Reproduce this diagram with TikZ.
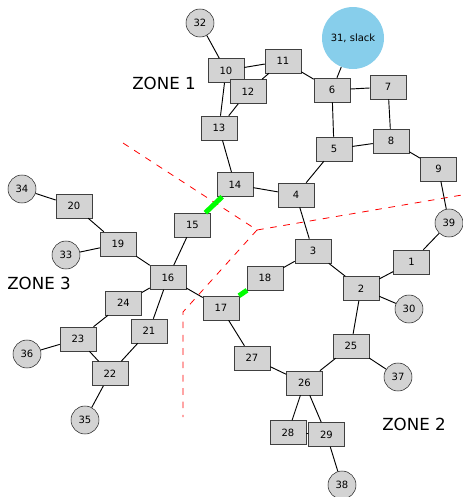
\documentclass[tikz,border=0pt]{standalone}
\usepackage{fontspec}
\setmainfont{DejaVu Sans}
\definecolor{skyblue}{HTML}{87CEEB}
\definecolor{busgray}{HTML}{D3D3D3}
\begin{document}
\begin{tikzpicture}[x=0.75pt,y=-0.75pt,
    bus/.style={draw=black!75, fill=busgray, minimum width=27pt, minimum height=18pt, inner sep=0pt, font=\fontsize{7.5}{9}\selectfont},
    gen/.style={circle, draw=black!85, fill=busgray, minimum size=21pt, inner sep=0pt, font=\fontsize{7.5}{9}\selectfont},
    slack/.style={circle, fill=skyblue, minimum size=46.5pt, inner sep=0pt, font=\fontsize{7.5}{9}\selectfont},
    line/.style={black, line width=0.7pt},
    trafo/.style={green, line width=3.75pt},
    border/.style={red, dash pattern=on 5pt off 5pt, line width=0.6pt},
    zone/.style={font=\fontsize{12.5}{15}\selectfont}]
    \useasboundingbox (0,0) rectangle (462,497);

    % Zone borders
    \coordinate (z1) at (123,143);
    \coordinate (zc) at (257,230);
    \coordinate (z2) at (462,195);
    \coordinate (z3) at (183,312);
    \coordinate (z4) at (183,417);
    \draw[border] (z1) -- (zc);
    \draw[border] (zc) -- (z2);
    \draw[border] (zc) -- (z3) -- (z4);

    % Buses
    \foreach \n/\x/\y in {1/411.5/262, 2/361/288.5, 3/313/251, 4/296/195, 5/334/149,
        6/332/90, 7/388/87, 8/391/141, 9/438.5/169, 10/226/70.5, 11/283/61,
        12/248/91.5, 13/219/128, 14/235/184.5, 15/192.5/225, 16/168/277.5,
        17/221/308, 18/265/278, 19/118/244, 20/74/206, 21/149/331, 22/110/373.5,
        23/78/339, 24/123.5/303, 25/351/346, 26/304.5/383, 27/252/358,
        28/288/432.5, 29/326.5/434.5}
        \node[bus] (b\n) at (\x,\y) {\n};

    % Generators
    \foreach \n/\x/\y in {30/409/309, 32/200/23, 33/66/255, 34/22/189,
        35/85/420, 36/27/354, 37/398/377, 38/342/485, 39/449/223}
        \node[gen] (b\n) at (\x,\y) {\n};
    \node[slack] (b31) at (353,38) {31, slack};

    % Lines
    \foreach \a/\b in {32/10, 31/6, 10/11, 10/13, 11/12, 11/6, 12/13, 6/7, 6/5,
        7/8, 5/8, 8/9, 9/39, 5/4, 13/14, 14/4, 4/3, 3/18, 3/2, 2/1, 1/39, 2/30,
        2/25, 25/37, 25/26, 26/27, 27/17, 26/28, 26/29, 28/29, 29/38, 15/16,
        16/17, 16/19, 16/24, 16/21, 19/20, 19/33, 20/34, 24/23, 23/36, 23/22,
        21/22, 22/35}
        \draw[line] (b\a) -- (b\b);

    % Transformers between zones
    \draw[trafo] (b14) -- (b15);
    \draw[trafo] (b18) -- (b17);

    \node[zone] (zone1) at (164,83) {ZONE 1};
    \node[zone] (zone2) at (414,424) {ZONE 2};
    \node[zone] (zone3) at (39,283) {ZONE 3};
\end{tikzpicture}
\end{document}
